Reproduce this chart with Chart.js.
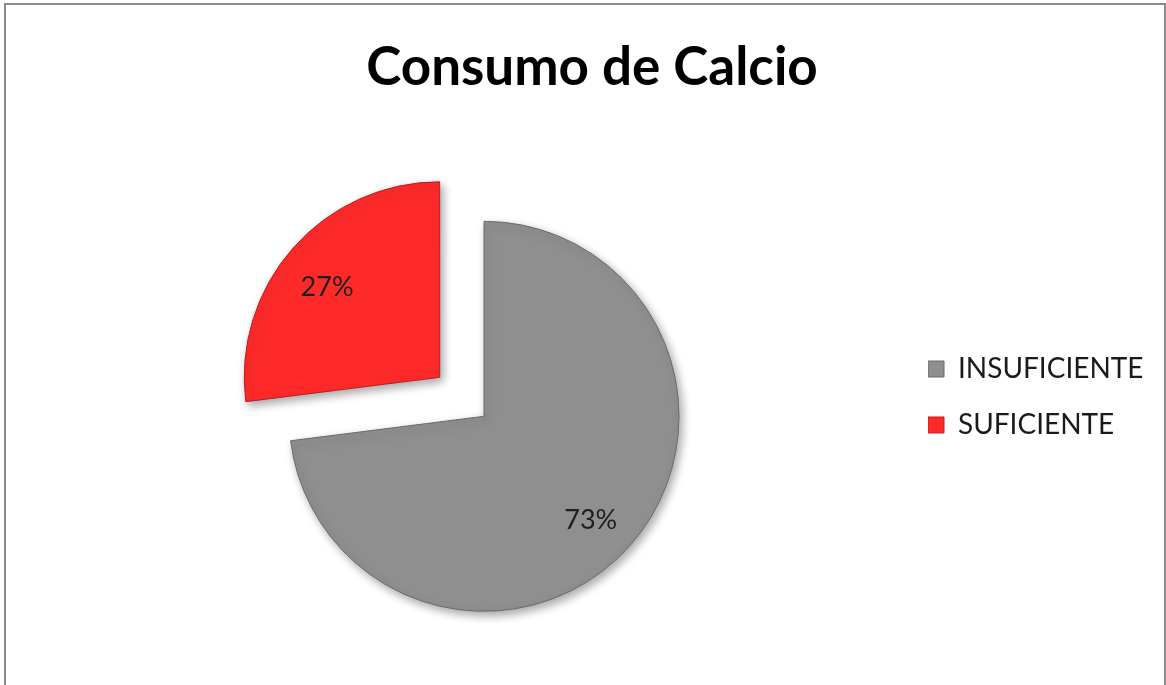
<!DOCTYPE html>
<html>
<head>
<meta charset="utf-8">
<title>Consumo de Calcio</title>
<script src="https://cdn.jsdelivr.net/npm/chart.js@4.4.1/dist/chart.umd.min.js"></script>
<style>
  html, body { margin: 0; padding: 0; background: #fff; overflow: hidden; }
  .frame {
    position: absolute; left: 4px; top: 3px; width: 1158px; height: 700px;
    border: 2px solid #8c8c8c; border-bottom: none;
  }
  .wrap { position: absolute; left: 0; top: 0; width: 1166px; height: 685px; }
</style>
</head>
<body>
<div class="frame"></div>
<div class="wrap"><canvas id="pie" width="1166" height="685"></canvas></div>
<script>
// Data
const categories = ['INSUFICIENTE', 'SUFICIENTE'];
const percentages = [73, 27];
const sliceColors = ['#8f8f8f', '#fe2a2a'];
const sliceEdges = ['#6a6a6a', '#c01c1c'];
const sliceOffsets = [0, 236]; // the arc moves offset/4 along its mid angle

// soft drop shadow under the slices
const shadowPlugin = {
  id: 'sliceShadow',
  beforeDatasetDraw(chart) {
    const ctx = chart.ctx;
    ctx.save();
    ctx.shadowColor = 'rgba(0, 0, 0, 0.35)';
    ctx.shadowBlur = 10;
    ctx.shadowOffsetX = 3;
    ctx.shadowOffsetY = 4;
  },
  afterDatasetDraw(chart) {
    chart.ctx.restore();
  }
};

// percentage text inside each slice
const pctLabels = {
  id: 'pctLabels',
  afterDatasetsDraw(chart) {
    const ctx = chart.ctx;
    const values = chart.data.datasets[0].data;
    const total = values.reduce((a, b) => a + b, 0);
    const meta = chart.getDatasetMeta(0);
    ctx.save();
    ctx.font = '27px Lato';
    ctx.fillStyle = '#1e1e1e';
    ctx.textAlign = 'center';
    ctx.textBaseline = 'middle';
    meta.data.forEach((arc, i) => {
      const p = arc.getProps(['x', 'y', 'startAngle', 'endAngle', 'outerRadius'], true);
      const mid = (p.startAngle + p.endAngle) / 2;
      const d = (arc.options.offset || 0) / 4 + p.outerRadius * 0.75;
      const txt = Math.round(values[i] / total * 100) + '%';
      ctx.fillText(txt, p.x + Math.cos(mid) * d - 3, p.y + Math.sin(mid) * d + 7);
    });
    ctx.restore();
  }
};

const baseLabels = Chart.overrides.pie.plugins.legend.labels.generateLabels;

new Chart(document.getElementById('pie'), {
  type: 'pie',
  data: {
    labels: categories,
    datasets: [{
      data: percentages,
      backgroundColor: sliceColors,
      borderColor: sliceEdges,
      borderWidth: 1,
      offset: sliceOffsets,
      radius: 195
    }]
  },
  options: {
    responsive: false,
    animation: false,
    events: [],
    layout: { padding: { left: 40, right: 22, top: 0, bottom: 0 } },
    plugins: {
      title: {
        display: true,
        text: 'Consumo de Calcio',
        color: '#000',
        font: { family: 'Lato', size: 53, weight: 'bold', lineHeight: 1.2 },
        padding: { top: 36, bottom: 48 }
      },
      legend: {
        position: 'right',
        align: 'center',
        maxWidth: 216,
        title: { display: true, text: '', padding: { top: 137, bottom: 0 }, font: { size: 0, lineHeight: 0 } },
        labels: {
          boxWidth: 16,
          boxHeight: 16,
          padding: 0,
          color: '#1a1a1a',
          font: { family: 'Lato', size: 28, lineHeight: 2 },
          // one-line arrays so each row takes the font's line height
          generateLabels(chart) {
            return baseLabels(chart).map(item => Object.assign(item, { text: [item.text] }));
          }
        }
      },
      tooltip: { enabled: false }
    }
  },
  plugins: [shadowPlugin, pctLabels]
});
</script>
</body>
</html>
